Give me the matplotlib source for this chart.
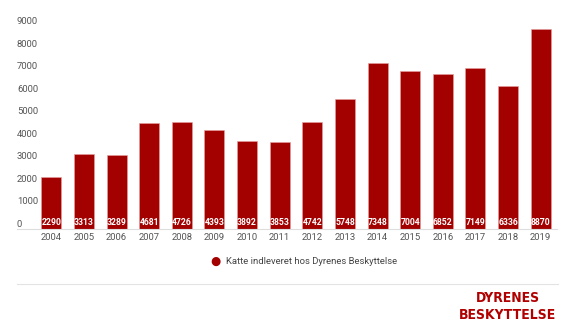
import matplotlib.pyplot as plt
import numpy as np

years = ['2004', '2005', '2006', '2007', '2008', '2009', '2010', '2011',
         '2012', '2013', '2014', '2015', '2016', '2017', '2018', '2019']
cats = [2290, 3313, 3289, 4681, 4726, 4393, 3892, 3853,
        4742, 5748, 7348, 7004, 6852, 7149, 6336, 8870]
yticks = [0, 1000, 2000, 3000, 4000, 5000, 6000, 7000, 8000, 9000]
series_name = 'Katte indleveret hos Dyrenes Beskyttelse'

red = '#a30000'
plt.rcParams['font.family'] = ['Roboto', 'DejaVu Sans']

fig = plt.figure(figsize=(5.76, 3.3), dpi=100)
ax = fig.add_axes([35 / 576, 101 / 330, 522 / 576, 203 / 330])

x = np.arange(len(years))
ax.bar(x, cats, width=0.61, color=red, edgecolor='#e8a0a0', linewidth=0.4)
for xi, v in zip(x, cats):
    ax.text(xi, 80, str(v), ha='center', va='bottom', color='white',
            fontsize=6.2, fontweight='bold')

ax.set_xlim(-0.5, len(years) - 0.5)
ax.set_ylim(0, 9000)
ax.set_xticks(x)
ax.set_xticklabels(years, fontsize=6.8, color='#555555')
ax.tick_params(axis='x', length=0, pad=3)

ax.set_yticks(yticks)
ax.set_yticklabels([str(t) for t in yticks], fontsize=6.8, color='#555555',
                   ha='left', va='bottom')
ax.tick_params(axis='y', length=0, pad=13)

for s in ax.spines.values():
    s.set_visible(False)
ax.plot([-0.035, 1.0], [0, 0], transform=ax.transAxes, color='#dddddd',
        linewidth=0.8, clip_on=False)

# legend
fig.text(215 / 576, 1 - 261 / 330, '\u25cf', color=red, fontsize=8.5,
         ha='center', va='center')
fig.text(226 / 576, 1 - 261 / 330, series_name, color='#444444',
         fontsize=6.8, ha='left', va='center')

# footer line + logo
fig.add_artist(plt.Line2D([17 / 576, 558 / 576], [1 - 284 / 330] * 2,
                          color='#e3e3e3', linewidth=0.8))
fig.text(508 / 576, 1 - 298 / 330, 'DYRENES', color='#b00000', fontsize=10,
         fontweight='bold', family='DejaVu Sans', fontstretch='condensed',
         ha='center', va='center')
fig.text(508 / 576, 1 - 315 / 330, 'BESKYTTELSE', color='#b00000',
         fontsize=10, fontweight='bold', family='DejaVu Sans',
         fontstretch='condensed', ha='center', va='center')

fig.savefig('out.png', dpi=100)
